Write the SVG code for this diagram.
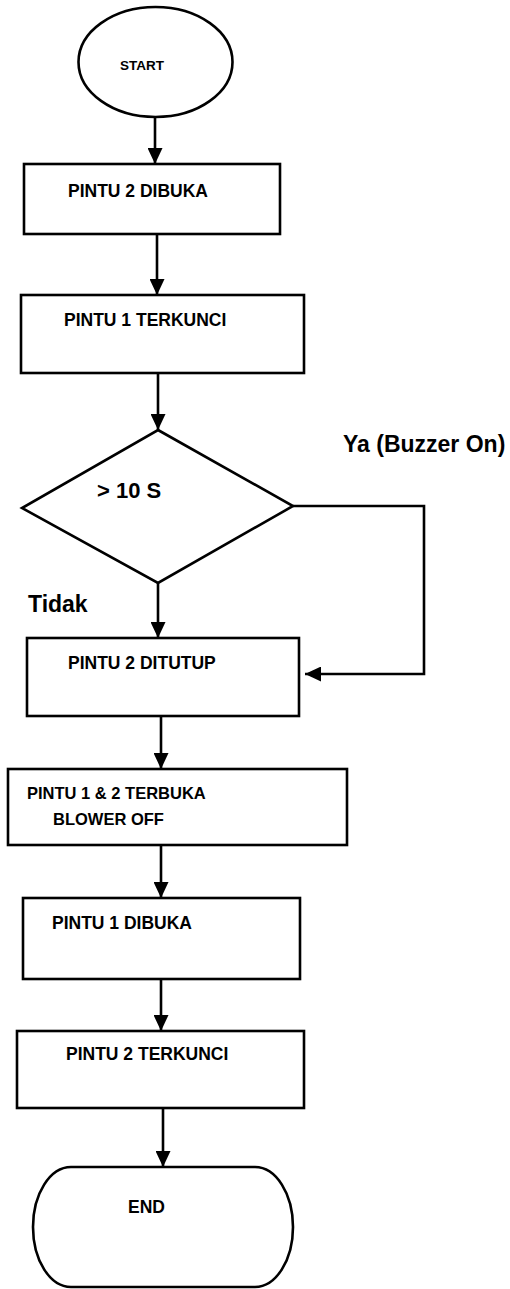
<svg xmlns="http://www.w3.org/2000/svg" width="510" height="1289" viewBox="0 0 510 1289">
<style>
.shape{fill:#fff;stroke:#000;stroke-width:2.6}
.t{font-family:"Liberation Sans",Arial,sans-serif;font-weight:bold;fill:#000}
.box{font-size:17.5px}
.lbl{font-size:23px}
.conn{fill:none;stroke:#000;stroke-width:2.6}
</style>
<defs>
<marker id="arr" markerUnits="userSpaceOnUse" markerWidth="16" markerHeight="15" refX="16" refY="7.5" orient="auto">
<path d="M0,0 L16,7.5 L0,15 z" fill="#000"/>
</marker>
</defs>
<rect width="510" height="1289" fill="#fff"/>
<g id="connectors">
<line class="conn" x1="155" y1="117" x2="155" y2="164" marker-end="url(#arr)"/>
<line class="conn" x1="157" y1="234" x2="157" y2="295" marker-end="url(#arr)"/>
<line class="conn" x1="158" y1="373" x2="158" y2="430" marker-end="url(#arr)"/>
<line class="conn" x1="158" y1="583" x2="158" y2="638" marker-end="url(#arr)"/>
<polyline class="conn" points="293,506 424,506 424,674 305,674" marker-end="url(#arr)"/>
<line class="conn" x1="161" y1="716" x2="161" y2="769" marker-end="url(#arr)"/>
<line class="conn" x1="161" y1="845" x2="161" y2="898" marker-end="url(#arr)"/>
<line class="conn" x1="161" y1="979" x2="161" y2="1031" marker-end="url(#arr)"/>
<line class="conn" x1="163" y1="1108" x2="163" y2="1167" marker-end="url(#arr)"/>
<text class="t lbl" x="343" y="452">Ya (Buzzer On)</text>
<text class="t lbl" x="28" y="612">Tidak</text>
</g>
<g id="start">
<ellipse class="shape" cx="155.5" cy="62" rx="77" ry="55"/>
<text class="t" x="120" y="70" font-size="13.5">START</text>
</g>
<g id="pintu2-dibuka">
<rect class="shape" x="24" y="164" width="256" height="70"/>
<text class="t box" x="68" y="197">PINTU 2 DIBUKA</text>
</g>
<g id="pintu1-terkunci">
<rect class="shape" x="21" y="295" width="283" height="78"/>
<text class="t box" x="64" y="326">PINTU 1 TERKUNCI</text>
</g>
<g id="decision">
<polygon class="shape" points="158,430 293,506 158,583 22,508"/>
<text class="t" x="97" y="498" font-size="22">&gt; 10 S</text>
</g>
<g id="pintu2-ditutup">
<rect class="shape" x="27" y="638" width="272" height="78"/>
<text class="t box" x="68" y="669">PINTU 2 DITUTUP</text>
</g>
<g id="pintu12-terbuka">
<rect class="shape" x="8" y="769" width="339" height="76"/>
<text class="t" x="27" y="799" font-size="16.5">PINTU 1 &amp; 2 TERBUKA</text>
<text class="t" x="53" y="825" font-size="16.5">BLOWER OFF</text>
</g>
<g id="pintu1-dibuka">
<rect class="shape" x="23" y="898" width="277" height="81"/>
<text class="t box" x="52" y="929">PINTU 1 DIBUKA</text>
</g>
<g id="pintu2-terkunci">
<rect class="shape" x="17" y="1031" width="287" height="77"/>
<text class="t box" x="66" y="1060">PINTU 2 TERKUNCI</text>
</g>
<g id="end">
<rect class="shape" x="33" y="1167" width="260" height="120" rx="38" ry="60"/>
<text class="t" x="128" y="1213" font-size="17.5">END</text>
</g>
</svg>
